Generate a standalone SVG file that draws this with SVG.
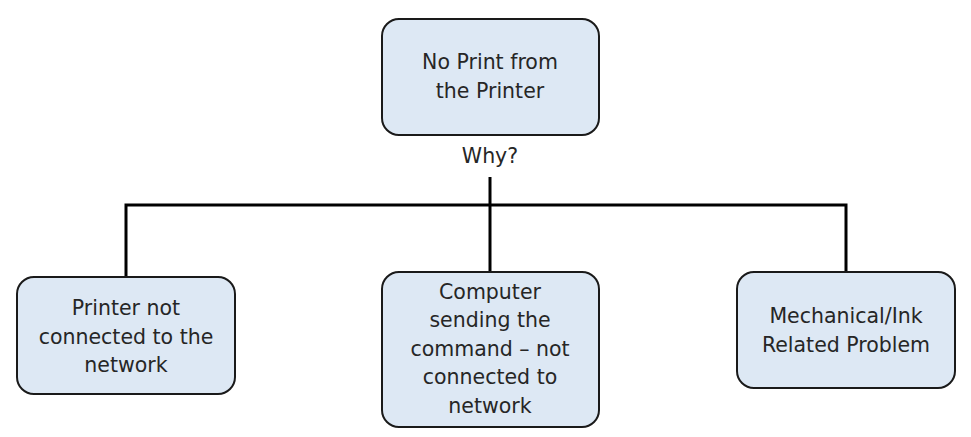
<svg xmlns="http://www.w3.org/2000/svg" width="971" height="437" viewBox="0 0 971 437">
<style>
.box{fill:#dde8f4;stroke:#1a1a1a;stroke-width:2}
.t{font-family:"DejaVu Sans","Liberation Sans",sans-serif;font-size:20.5px;fill:#262626;text-anchor:middle}
.c{fill:none;stroke:#000;stroke-width:3}
</style>
<rect width="971" height="437" fill="#fff"/>
<g id="connectors">
<line class="c" x1="490" y1="177" x2="490" y2="272"/>
<polyline class="c" points="126,276 126,205 846,205 846,272"/>
</g>
<g id="why">
<text class="t" x="490" y="163">Why?</text>
</g>
<g id="root">
<rect class="box" x="382" y="19" width="217" height="116" rx="17"/>
<text class="t" x="490" y="69">No Print from</text>
<text class="t" x="490" y="98">the Printer</text>
</g>
<g id="n1">
<rect class="box" x="17" y="277" width="218" height="117" rx="17"/>
<text class="t" x="126" y="315">Printer not</text>
<text class="t" x="126" y="344">connected to the</text>
<text class="t" x="126" y="372">network</text>
</g>
<g id="n2">
<rect class="box" x="382" y="272" width="217" height="155" rx="17"/>
<text class="t" x="490" y="299">Computer</text>
<text class="t" x="490" y="327">sending the</text>
<text class="t" x="490" y="356">command – not</text>
<text class="t" x="490" y="384">connected to</text>
<text class="t" x="490" y="413">network</text>
</g>
<g id="n3">
<rect class="box" x="737" y="272" width="218" height="116" rx="17"/>
<text class="t" x="846" y="323">Mechanical/Ink</text>
<text class="t" x="846" y="352">Related Problem</text>
</g>
</svg>
